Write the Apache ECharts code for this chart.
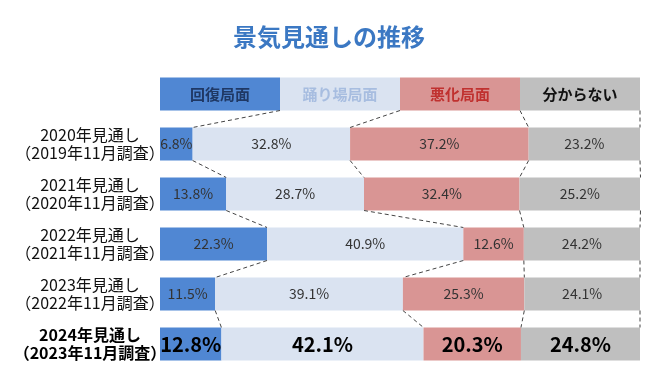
<!DOCTYPE html>
<html><head><meta charset="utf-8">
<script src="https://cdn.jsdelivr.net/npm/echarts@6/dist/echarts.min.js"></script>
<style>html,body{margin:0;padding:0;background:#fff}#c{width:658px;height:379px}</style>
</head><body><div id="c"></div>
<script>
const title = '景気見通しの推移';
const categories = [
  '2020年見通し\n（2019年11月調査）',
  '2021年見通し\n（2020年11月調査）',
  '2022年見通し\n（2021年11月調査）',
  '2023年見通し\n（2022年11月調査）',
  '2024年見通し\n（2023年11月調査）'
];
const seriesNames = ['回復局面', '踊り場局面', '悪化局面', '分からない'];
const headerShare = [25, 25, 25, 25];
const recovery = [6.8, 13.8, 22.3, 11.5, 12.8];
const plateau = [32.8, 28.7, 40.9, 39.1, 42.1];
const worsening = [37.2, 32.4, 12.6, 25.3, 20.3];
const unknown = [23.2, 25.2, 24.2, 24.1, 24.8];

const colors = ['#5087d3', '#dae3f1', '#d99594', '#bfbfbf'];
const headerTextColors = ['#1f3864', '#a7bde0', '#c0312f', '#111'];
const seriesValues = [recovery, plateau, worsening, unknown];
const FONT = '"Noto Sans CJK JP", "Noto Sans", sans-serif';
const lastIdx = categories.length; // index in y data (header at 0)

// rows including header
const rows = [headerShare].concat(categories.map((c, i) => seriesValues.map(s => s[i])));
const cum = rows.map(r => { let a = 0; return r.map(v => (a += v)); });
const connectors = [];
for (let g = 0; g < rows.length - 1; g++) {
  for (let k = 0; k < 4; k++) connectors.push([cum[g][k], g, cum[g + 1][k], g + 1]);
}

const BAR = 33;
const series = seriesNames.map((name, k) => ({
  name, type: 'bar', stack: 'all', barWidth: BAR,
  itemStyle: { color: colors[k] },
  data: [headerShare[k]].concat(seriesValues[k]),
  label: {
    show: true, position: 'inside', fontFamily: FONT,
    formatter: p => {
      if (p.dataIndex === 0) return '{h' + k + '|' + name + '}';
      if (p.dataIndex === lastIdx) return '{b|' + p.value.toFixed(1) + '%}';
      return '{n|' + p.value.toFixed(1) + '%}';
    },
    rich: {
      h0: { fontSize: 15, fontWeight: 'bold', color: headerTextColors[0], fontFamily: FONT },
      h1: { fontSize: 15, fontWeight: 'bold', color: headerTextColors[1], fontFamily: FONT },
      h2: { fontSize: 15, fontWeight: 'bold', color: headerTextColors[2], fontFamily: FONT },
      h3: { fontSize: 15, fontWeight: 'bold', color: headerTextColors[3], fontFamily: FONT },
      n: { fontSize: 14, color: '#333', fontFamily: FONT },
      b: { fontSize: 20, fontWeight: 'bold', color: '#000', fontFamily: FONT }
    }
  },
  emphasis: { disabled: true }
}));

series.push({
  type: 'custom', silent: true, z: 5,
  encode: { x: [0, 2], y: [1, 3] },
  data: connectors,
  renderItem: (params, api) => {
    const p1 = api.coord([api.value(0), api.value(1)]);
    const p2 = api.coord([api.value(2), api.value(3)]);
    return {
      type: 'line',
      shape: { x1: p1[0], y1: p1[1] + BAR / 2, x2: p2[0], y2: p2[1] - BAR / 2 },
      style: { stroke: '#444', lineWidth: 1, lineDash: [4, 3] }
    };
  }
});

const chart = echarts.init(document.getElementById('c'));
chart.setOption({
  animation: false,
  title: { text: title, left: 'center', top: 20, textStyle: { fontSize: 24, fontWeight: 'bold', color: '#3b78c3', fontFamily: FONT } },
  grid: { left: 160, right: 18, top: 69, height: 300 },
  xAxis: { type: 'value', min: 0, max: 100, show: false },
  yAxis: {
    type: 'category', inverse: true, data: [''].concat(categories),
    axisLine: { show: false }, axisTick: { show: false },
    axisLabel: {
      margin: 70, align: 'center', fontFamily: FONT, fontSize: 16, lineHeight: 18, color: '#111',
      formatter: (v, i) => i === lastIdx ? '{b|' + v.split('\n').join('}\n{b|') + '}' : v,
      rich: { b: { fontWeight: 'bold', fontSize: 16, lineHeight: 18, color: '#000', fontFamily: FONT } }
    }
  },
  series
});
</script></body></html>
